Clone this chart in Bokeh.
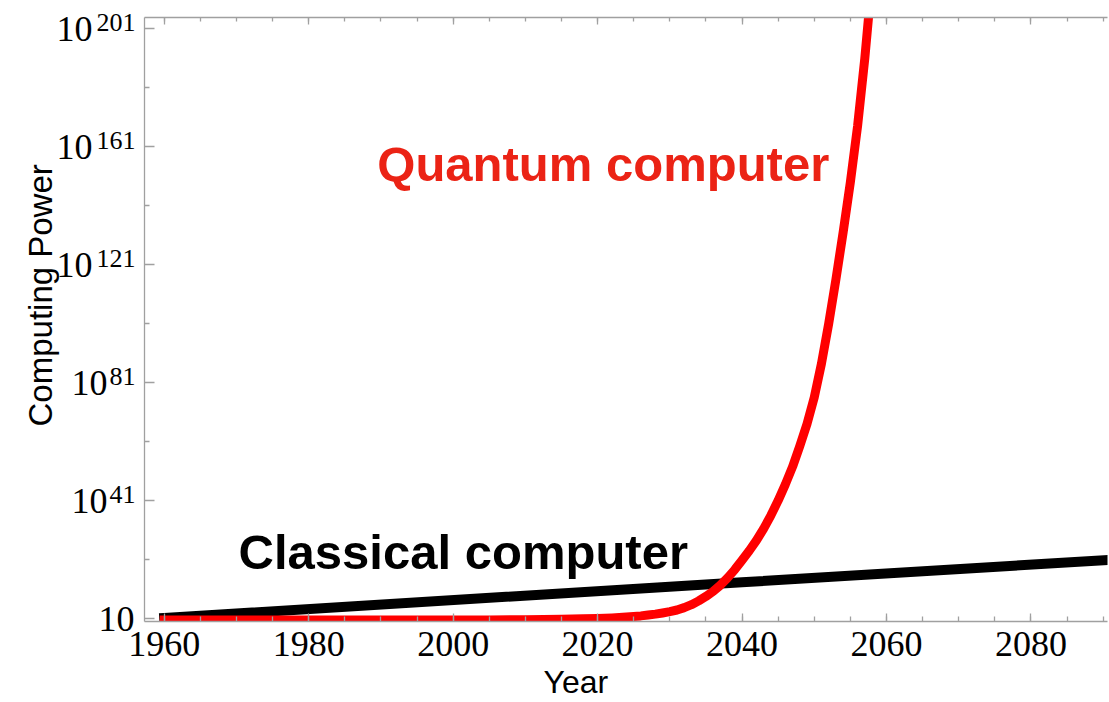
from bokeh.plotting import figure
from bokeh.models import Range1d, LinearAxis, FixedTicker, Label, Title
from bokeh.embed import file_html
from bokeh.resources import INLINE

# ---- data (y values are log10 of computing power) ----
classical_years = [1960, 2040, 2091]
classical_log_power = [1.2, 13.3, 20.9]

quantum_years = [1960, 1990, 2005, 2010, 2015, 2018, 2020, 2022, 2024, 2026, 2027,
                 2028, 2029, 2030, 2031, 2032, 2033, 2034, 2035, 2036, 2037, 2038,
                 2039, 2040, 2041, 2042, 2043, 2044, 2045, 2046, 2047, 2048, 2049,
                 2050, 2051, 2052, 2053, 2054, 2055, 2056, 2057, 2058]
quantum_log_power = [0.5, 0.5, 0.55, 0.6, 0.75, 0.9, 1.0, 1.2, 1.5, 1.9, 2.2,
                     2.5, 2.9, 3.35, 3.9, 4.7, 5.7, 7.0, 8.5, 10.2, 12.3, 14.8,
                     17.6, 20.8, 24.0, 27.5, 31.5, 36.0, 41.0, 46.5, 52.5, 59.5, 67.0,
                     76.0, 87.5, 101.0, 116.0, 132.0, 149.0, 168.0, 191.0, 218.0]

x_major_ticks = [1960, 1980, 2000, 2020, 2040, 2060, 2080]
x_tick_labels = ["1960", "1980", "2000", "2020", "2040", "2060", "2080"]
x_minor_ticks = [1960, 1965, 1970, 1975, 1980, 1985, 1990, 1995, 2000, 2005, 2010,
                 2015, 2020, 2025, 2030, 2035, 2040, 2045, 2050, 2055, 2060, 2065,
                 2070, 2075, 2080, 2085, 2090]
y_major_ticks = [1, 41, 81, 121, 161, 201]
y_tick_base = ["10", "10", "10", "10", "10", "10"]
y_tick_exp = ["", "41", "81", "121", "161", "201"]
y_minor_ticks = [21, 61, 101, 141, 181]

X0, X1 = 1957.27, 2090.6
Y0, Y1 = 0.0, 204.8
SUP_SHIFT = 2.2          # superscript raise, in axis units (~6.5 px)

AXIS_GRAY = "#a0a0a0"
SERIF = "Liberation Serif"
SANS = "Liberation Sans"
NBSP = "\u00a0"
# room left after the base "10" for exponents of 0, 2 and 3 digits
BASE_PAD = {0: "", 2: NBSP * 3, 3: NBSP * 4 + "\u2006"}

p = figure(width=1109, height=702,
           x_range=Range1d(X0, X1), y_range=Range1d(Y0, Y1),
           x_axis_type=None, y_axis_type=None,
           output_backend="svg", toolbar_location=None,
           min_border_left=144, min_border_right=2,
           min_border_top=17, min_border_bottom=80,
           background_fill_color="white", border_fill_color="white",
           outline_line_color=None)
p.extra_y_ranges = {"sup": Range1d(Y0 - SUP_SHIFT, Y1 - SUP_SHIFT)}


def style_axis(ax, tick_in, minor_in):
    ax.axis_line_color = AXIS_GRAY
    ax.axis_line_width = 1.3
    ax.major_tick_line_color = AXIS_GRAY
    ax.minor_tick_line_color = AXIS_GRAY
    ax.major_tick_line_width = 1.3
    ax.minor_tick_line_width = 1.3
    ax.major_tick_in = tick_in
    ax.major_tick_out = 0
    ax.minor_tick_in = minor_in
    ax.minor_tick_out = 0


def bare_axis(ax):
    ax.axis_line_color = None
    ax.major_tick_line_color = None
    ax.minor_tick_line_color = None
    ax.major_tick_in = 0
    ax.major_tick_out = 0
    ax.minor_tick_in = 0
    ax.minor_tick_out = 0


# bottom axis
xb = LinearAxis(ticker=FixedTicker(ticks=x_major_ticks, minor_ticks=x_minor_ticks))
xb.major_label_overrides = {t: s for t, s in zip(x_major_ticks, x_tick_labels)}
xb.major_label_text_font = SERIF
xb.major_label_text_font_size = "36px"
xb.major_label_text_color = "black"
xb.major_label_standoff = 10
style_axis(xb, 8, 5)
p.add_layout(xb, "below")

# top axis (ticks only)
xt = LinearAxis(ticker=FixedTicker(ticks=x_major_ticks, minor_ticks=x_minor_ticks))
xt.major_label_overrides = {t: "" for t in x_major_ticks}
xt.major_label_text_font_size = "0px"
style_axis(xt, 7, 4)
p.add_layout(xt, "above")

# left axis: line and ticks only
yl = LinearAxis(ticker=FixedTicker(ticks=y_major_ticks, minor_ticks=y_minor_ticks))
yl.major_label_overrides = {t: "" for t in y_major_ticks}
yl.major_label_text_font_size = "0px"
yl.major_label_standoff = 0
style_axis(yl, 10, 5)
p.add_layout(yl, "left")

# superscript exponents (raised via the shifted range)
ye = LinearAxis(y_range_name="sup", ticker=FixedTicker(ticks=y_major_ticks, minor_ticks=[]))
ye.major_label_overrides = {t: e for t, e in zip(y_major_ticks, y_tick_exp)}
ye.major_label_text_font = SERIF
ye.major_label_text_font_size = "26px"
ye.major_label_text_color = "black"
ye.major_label_standoff = 9
bare_axis(ye)
p.add_layout(ye, "left")

# base "10" of each label
yb = LinearAxis(ticker=FixedTicker(ticks=y_major_ticks, minor_ticks=[]))
yb.major_label_overrides = {t: b + BASE_PAD[len(e)]
                            for t, b, e in zip(y_major_ticks, y_tick_base, y_tick_exp)}
yb.major_label_text_font = SERIF
yb.major_label_text_font_size = "36px"
yb.major_label_text_color = "black"
yb.major_label_standoff = -41
bare_axis(yb)
p.add_layout(yb, "left")

# curves
p.line(classical_years, classical_log_power, line_color="black", line_width=10,
       line_cap="square")
p.line(quantum_years, quantum_log_power, line_color="#ff0000", line_width=9,
       line_cap="square", line_join="round")

# annotations
p.add_layout(Label(x=1989.5, y=155.0, text="Quantum computer", text_align="left",
                   text_baseline="alphabetic", text_font=SANS, text_font_style="bold",
                   text_font_size="49px", text_color="#eb2315"))
p.add_layout(Label(x=1970.3, y=23.7, text="Classical computer", text_align="left",
                   text_baseline="alphabetic", text_font=SANS, text_font_style="bold",
                   text_font_size="49px", text_color="black"))

# axis titles
p.add_layout(Title(text="Year", align="left", offset=399, standoff=6,
                   text_font=SANS, text_font_size="32px", text_font_style="normal",
                   text_color="black"), "below")
p.add_layout(Title(text="Computing Power", align="left", offset=195, standoff=-11,
                   text_font=SANS, text_font_size="33px", text_font_style="normal",
                   text_color="black"), "left")

open("out.html", "w").write(file_html(p, INLINE))
